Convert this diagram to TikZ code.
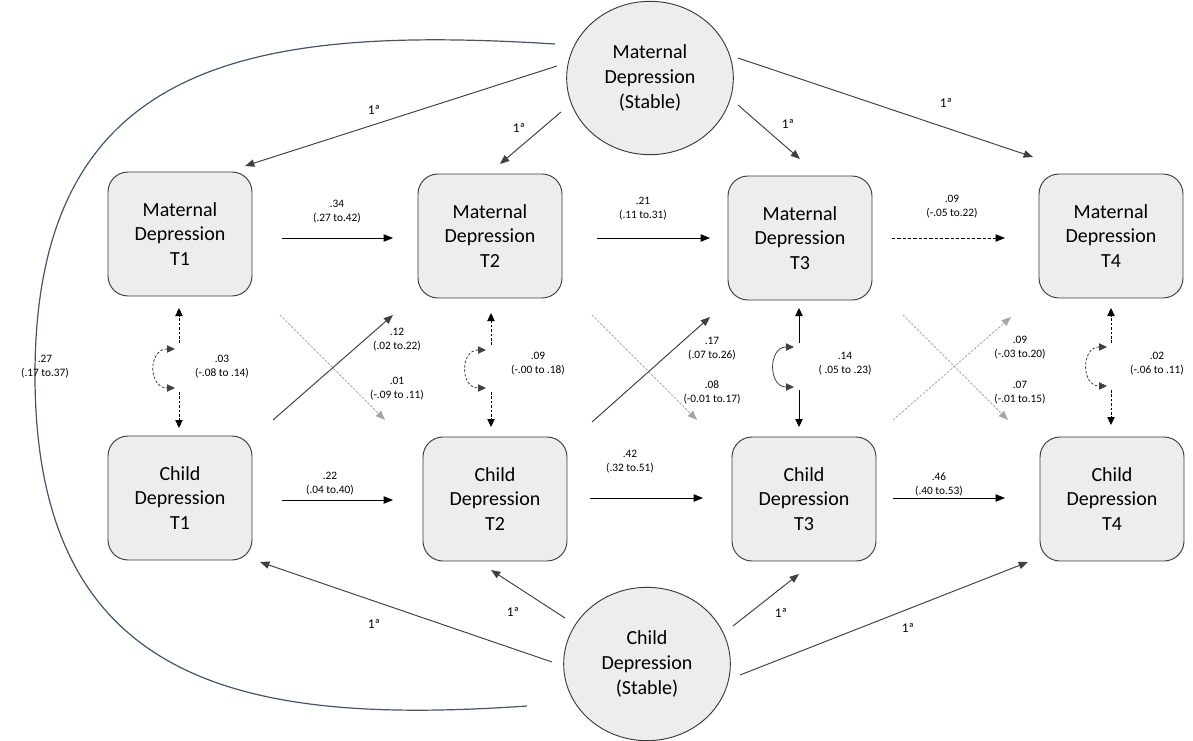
\documentclass[tikz,border=0pt]{standalone}
\usepackage{fontspec}
\setmainfont{Carlito}
\usetikzlibrary{arrows.meta,shapes.geometric}
\definecolor{boxfill}{HTML}{EDEDED}
\definecolor{boxline}{HTML}{3A3A3A}
\definecolor{curvecol}{HTML}{44546A}
\definecolor{darkg}{HTML}{404040}
\definecolor{lightg}{HTML}{A6A6A6}
\begin{document}
\begin{tikzpicture}[x=0.75pt,y=-0.75pt,
  box/.style={draw=boxline, fill=boxfill, rounded corners=15pt, minimum width=108pt, minimum height=93pt, align=center, inner sep=0pt, line width=0.7pt, font=\fontsize{15}{18.5}\selectfont},
  latent/.style={ellipse, draw=boxline, fill=boxfill, minimum width=125pt, minimum height=115pt, align=center, inner sep=0pt, line width=0.7pt, font=\fontsize{15}{18.5}\selectfont},
  lbl/.style={font=\fontsize{8.5}{10.5}\selectfont, align=center, inner sep=0pt},
  onelbl/.style={font=\fontsize{10}{12}\selectfont, inner sep=0pt},
  arr/.style={-{Triangle[length=7pt,width=5.5pt]}, line width=0.6pt, draw=black},
  darr/.style={{Triangle[length=6pt,width=5.5pt]}-{Triangle[length=6pt,width=5.5pt]}, line width=0.6pt},
  covseg/.style={-{Triangle[length=6pt,width=5.5pt]}, line width=0.7pt, dash pattern=on 2pt off 1.3pt},
  covarc/.style={darr, draw=darkg, dash pattern=on 2pt off 1.3pt},
  solidseg/.style={-{Triangle[length=6pt,width=5.5pt]}, line width=0.7pt},
  solidarc/.style={darr, draw=darkg},
  greyarr/.style={-{Triangle[length=7pt,width=5.5pt]}, line width=0.6pt, draw=lightg, fill=lightg, dash pattern=on 1.5pt off 1.5pt},
  darkarr/.style={-{Triangle[length=7pt,width=5.5pt]}, line width=0.7pt, draw=darkg, fill=darkg},
  dasharr/.style={arr, dash pattern=on 2.5pt off 1.5pt}
]
\useasboundingbox (0,0) rectangle (1193,740);

% big covariance curve
\coordinate (cvA) at (555,44);
\coordinate (cvM) at (35,375);
\coordinate (cvB) at (527,706);
\draw[curvecol, line width=0.9pt] (cvA) .. controls (250,25) and (35,60) .. (cvM) .. controls (35,690) and (250,725) .. (cvB);
\node[lbl] (l27) at (45,367) {.27\\(.17 to.37)};

% nodes
\node[box] (m1) at (180,234) {Maternal\\Depression\\T1};
\node[box] (m2) at (490,236) {Maternal\\Depression\\T2};
\node[box] (m3) at (800,238) {Maternal\\Depression\\T3};
\node[box] (m4) at (1111,236) {Maternal\\Depression\\T4};
\node[box] (c1) at (180,498) {Child\\Depression\\T1};
\node[box] (c2) at (495,499) {Child\\Depression\\T2};
\node[box] (c3) at (804,499) {Child\\Depression\\T3};
\node[box] (c4) at (1112,499) {Child\\Depression\\T4};
\node[latent] (ms) at (650,78) {Maternal\\Depression\\(Stable)};
\node[latent] (cs) at (647,664) {Child\\Depression\\(Stable)};

% loadings of maternal stable factor
\coordinate (ls1) at (557,66);  \coordinate (lt1) at (245,166);
\coordinate (ls2) at (561,112); \coordinate (lt2) at (500,164);
\coordinate (ls3) at (738,105); \coordinate (lt3) at (800,159);
\coordinate (ls4) at (738,58);  \coordinate (lt4) at (1033,157);
\draw[darkarr] (ls1) -- (lt1);
\draw[darkarr] (ls2) -- (lt2);
\draw[darkarr] (ls3) -- (lt3);
\draw[darkarr] (ls4) -- (lt4);
\node[onelbl] (o1) at (374,110) {1ª};
\node[onelbl] (o2) at (519,128) {1ª};
\node[onelbl] (o3) at (788,124) {1ª};
\node[onelbl] (o4) at (946,103) {1ª};

% loadings of child stable factor
\coordinate (cs1) at (552,662); \coordinate (ct1) at (260,562);
\coordinate (cs2) at (565,618); \coordinate (ct2) at (491,570);
\coordinate (cs3) at (733,626); \coordinate (ct3) at (799,574);
\coordinate (cs4) at (740,675); \coordinate (ct4) at (1028,562);
\draw[darkarr] (cs1) -- (ct1);
\draw[darkarr] (cs2) -- (ct2);
\draw[darkarr] (cs3) -- (ct3);
\draw[darkarr] (cs4) -- (ct4);
\node[onelbl] (o5) at (374,624) {1ª};
\node[onelbl] (o6) at (513,612) {1ª};
\node[onelbl] (o7) at (781,613) {1ª};
\node[onelbl] (o8) at (908,628) {1ª};

% autoregressive paths
\coordinate (h1s) at (282,238); \coordinate (h1e) at (393,238);
\coordinate (h2s) at (597,238); \coordinate (h2e) at (710,238);
\coordinate (h3s) at (892,238); \coordinate (h3e) at (1005,238);
\coordinate (b1s) at (282,500); \coordinate (b1e) at (393,500);
\coordinate (b2s) at (590,498); \coordinate (b2e) at (703,498);
\coordinate (b3s) at (893,498); \coordinate (b3e) at (1005,498);
\draw[arr] (h1s) -- (h1e);
\draw[arr] (h2s) -- (h2e);
\draw[dasharr] (h3s) -- (h3e);
\draw[arr] (b1s) -- (b1e);
\draw[arr] (b2s) -- (b2e);
\draw[arr] (b3s) -- (b3e);
\node[lbl] (lh1) at (337,212) {.34\\(.27 to.42)};
\node[lbl] (lh2) at (643,209) {.21\\(.11 to.31)};
\node[lbl] (lh3) at (952,207) {.09\\(-.05 to.22)};
\node[lbl] (lb1) at (330,484) {.22\\(.04 to.40)};
\node[lbl] (lb2) at (630,462) {.42\\(.32 to.51)};
\node[lbl] (lb3) at (939,484) {.46\\(.40 to.53)};

% cross-lagged paths
\coordinate (x1a) at (273,420); \coordinate (x1b) at (393,315);
\coordinate (x1c) at (280,315); \coordinate (x1d) at (385,420);
\coordinate (x2a) at (592,422); \coordinate (x2b) at (710,317);
\coordinate (x2c) at (592,315); \coordinate (x2d) at (697,420);
\coordinate (x3a) at (893,420); \coordinate (x3b) at (1011,317);
\coordinate (x3c) at (903,315); \coordinate (x3d) at (1008,420);
\draw[greyarr] (x1c) -- (x1d);
\draw[darkarr] (x1a) -- (x1b);
\draw[greyarr] (x2c) -- (x2d);
\draw[darkarr] (x2a) -- (x2b);
\draw[greyarr] (x3c) -- (x3d);
\draw[greyarr] (x3a) -- (x3b);
\node[lbl] (lx1) at (397,340) {.12\\(.02 to.22)};
\node[lbl] (ly1) at (397,389) {.01\\(-.09 to .11)};
\node[lbl] (lx2) at (712,349) {.17\\(.07 to.26)};
\node[lbl] (ly2) at (712,392) {.08\\(-0.01 to.17)};
\node[lbl] (lx3) at (1020,348) {.09\\(-.03 to.20)};
\node[lbl] (ly3) at (1020,393) {.07\\(-.01 to.15)};

% within-time covariances
% T1
\coordinate (u1a) at (179,343); \coordinate (u1b) at (179,308);
\coordinate (d1a) at (179,392); \coordinate (d1b) at (179,428);
\coordinate (r1a) at (175,349); \coordinate (r1b) at (175,388);
\draw[covseg] (u1a) -- (u1b);
\draw[covseg] (d1a) -- (d1b);
\draw[covarc] (r1a) .. controls +(-27,0) and +(-27,0) .. (r1b);
\node[lbl] (lc1) at (222,367) {.03\\(-.08 to .14)};
% T2
\coordinate (u2a) at (491,345); \coordinate (u2b) at (491,313);
\coordinate (d2a) at (491,392); \coordinate (d2b) at (491,427);
\coordinate (r2a) at (486,350); \coordinate (r2b) at (486,388);
\draw[covseg] (u2a) -- (u2b);
\draw[covseg] (d2a) -- (d2b);
\draw[covarc] (r2a) .. controls +(-26,0) and +(-26,0) .. (r2b);
\node[lbl] (lc2) at (538,364) {.09\\(-.00 to .18)};
% T3
\coordinate (u3a) at (799,343); \coordinate (u3b) at (799,308);
\coordinate (d3a) at (799,390); \coordinate (d3b) at (799,427);
\coordinate (r3a) at (794,347); \coordinate (r3b) at (794,387);
\draw[solidseg] (u3a) -- (u3b);
\draw[solidseg] (d3a) -- (d3b);
\draw[solidarc] (r3a) .. controls +(-26,0) and +(-26,0) .. (r3b);
\node[lbl] (lc3) at (845,364) {.14\\( .05 to .23)};
% T4
\coordinate (u4a) at (1111,343); \coordinate (u4b) at (1111,308);
\coordinate (d4a) at (1111,390); \coordinate (d4b) at (1111,425);
\coordinate (r4a) at (1107,347); \coordinate (r4b) at (1107,386);
\draw[covseg] (u4a) -- (u4b);
\draw[covseg] (d4a) -- (d4b);
\draw[covarc] (r4a) .. controls +(-26,0) and +(-26,0) .. (r4b);
\node[lbl] (lc4) at (1157,364) {.02\\(-.06 to .11)};
\end{tikzpicture}
\end{document}
